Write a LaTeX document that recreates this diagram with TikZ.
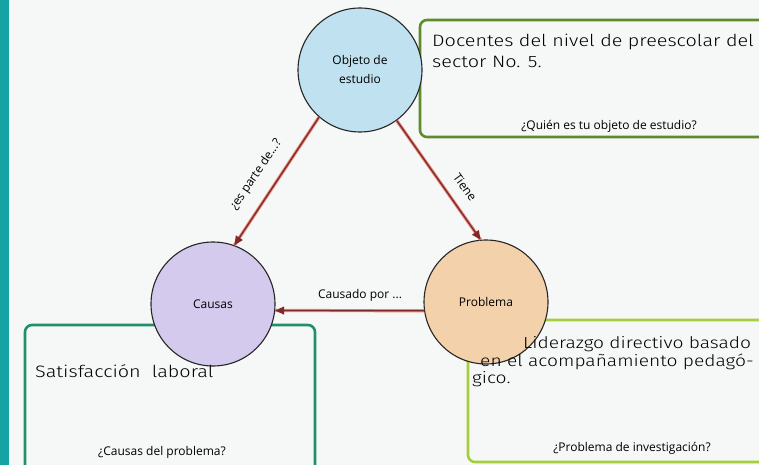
\documentclass[tikz,border=0pt]{standalone}
\usepackage{fontspec}
\setmainfont{Open Sans}
\newfontfamily\hand{Fira Sans Light}[FakeStretch=1.2]
\usetikzlibrary{arrows.meta}
\definecolor{paper}{HTML}{F6F7F7}
\definecolor{barteal}{HTML}{17A3A4}
\definecolor{boxolive}{HTML}{5E8B2E}
\definecolor{boxteal}{HTML}{1F8F6C}
\definecolor{boxlime}{HTML}{A5CF3A}
\definecolor{cblue}{HTML}{C0E2F0}
\definecolor{cviolet}{HTML}{D3CAEE}
\definecolor{cpeach}{HTML}{F2D1AB}
\definecolor{arrdark}{HTML}{7E2A28}
\definecolor{arrlight}{HTML}{E8877C}
\begin{document}
\begin{tikzpicture}[x=1pt,y=-1pt,
  circ/.style={circle,draw=black!85,line width=1.1pt,minimum size=124pt,inner sep=0pt,font=\fontsize{12}{19}\selectfont,align=center},
  hbox/.style={rounded corners=7pt,line width=2.6pt},
  lbl/.style={font=\fontsize{12}{14}\selectfont,inner sep=0pt},
  htext/.style={font=\hand\fontsize{16.5}{17}\selectfont,inner sep=0pt,anchor=base west},
  htsmall/.style={htext,font=\hand\fontsize{16}{17}\selectfont},
  glow/.style={draw=arrlight,line width=3.2pt},
  conn/.style={draw=arrdark,line width=1.3pt,-{Triangle[length=9pt,width=8pt]}}
]
\useasboundingbox (0,0) rectangle (759,465);
\fill[paper] (0,0) rectangle (759,465);
\fill[barteal] (0,0) rectangle (9,465);
% boxes
\draw[hbox,draw=boxolive] (420,20) rectangle (770,137);
\draw[hbox,draw=boxteal] (25,325) rectangle (315,475);
\draw[hbox,draw=boxlime] (468,320) rectangle (770,462);
% circles
\node[circ,fill=cblue] (obj) at (360,70) {Objeto de\\estudio};
\node[circ,fill=cviolet] (cau) at (213,304) {Causas};
\node[circ,fill=cpeach] (prob) at (486,302) {Problema};
% connectors
\draw[glow] (obj.229) -- (cau.70);
\draw[conn] (obj.229) -- (cau.70);
\draw[glow] (obj.-54) -- (prob.95);
\draw[conn] (obj.-54) -- (prob.95);
\draw[glow] (prob.188) -- (cau.-6);
\draw[conn] (prob.188) -- (cau.-6);
% connector labels
\node[lbl,rotate=56] (l1) at (256,175) {¿es parte de...?};
\node[lbl,rotate=-54] (l2) at (465,187) {Tiene};
\node[lbl] (l3) at (360,295) {Causado por ...};
% handwritten texts
\node[htext] (t1) at (432,47) {Docentes del nivel de preescolar del};
\node[htext] (t2) at (432,68) {sector No. 5.};
\node[htext] (t3) at (35,377) {Satisfacción \ laboral};
\node[htsmall] (t4) at (523,348) {Liderazgo directivo basado};
\node[htsmall] (t5) at (480,366) {en el acompañamiento pedagó-};
\node[htsmall] (t6) at (472,383) {gico.};
% captions
\node[lbl] (c1) at (609,126) {¿Quién es tu objeto de estudio?};
\node[lbl] (c2) at (162,452) {¿Causas del problema?};
\node[lbl] (c3) at (632,448) {¿Problema de investigación?};
\end{tikzpicture}
\end{document}
